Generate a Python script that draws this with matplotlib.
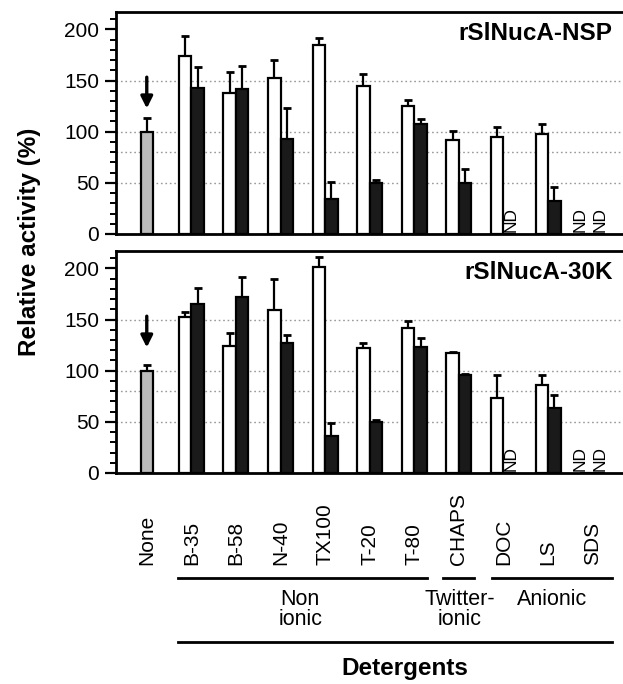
import matplotlib
matplotlib.use("Agg")
import matplotlib.pyplot as plt
import matplotlib.transforms as mtransforms
from matplotlib.lines import Line2D
from matplotlib.ticker import MultipleLocator
import numpy as np

plt.rcParams['font.family'] = ['Liberation Sans', 'DejaVu Sans']

# --- DATA ---
detergents = ["None", "B-35", "B-58", "N-40", "TX100", "T-20", "T-80",
              "CHAPS", "DOC", "LS", "SDS"]

control_nsp, control_nsp_err = 100, 13
white_nsp = [174, 138, 152, 185, 145, 125, 92, 95, 98, np.nan]
white_nsp_err = [20, 20, 18, 7, 11, 6, 9, 10, 10, 0]
black_nsp = [143, 142, 93, 34, 50, 108, 50, np.nan, 32, np.nan]
black_nsp_err = [20, 22, 30, 17, 3, 4, 14, 0, 14, 0]

control_30k, control_30k_err = 100, 6
white_30k = [152, 124, 159, 201, 122, 142, 117, 73, 86, np.nan]
white_30k_err = [5, 13, 31, 10, 5, 7, 1, 23, 10, 0]
black_30k = [165, 172, 127, 36, 50, 123, 96, np.nan, 64, np.nan]
black_30k_err = [16, 20, 8, 13, 1.5, 9, 0.5, 0, 12, 0]

groups = [("Non\nionic", 0.70, 6.28, 3.44),
          ("Twitter-\nionic", 6.64, 7.34, 7.02),
          ("Anionic", 7.74, 10.43, 9.08)]

W, H = 623, 684
fig = plt.figure(figsize=(W / 100, H / 100), dpi=100)

def frac_box(left, top, right, bottom):
    return [left / W, 1 - bottom / H, (right - left) / W, (bottom - top) / H]

ax_top = fig.add_axes(frac_box(116, 12, 623, 234))
ax_bot = fig.add_axes(frac_box(116, 251, 623, 473))

x = np.arange(len(detergents))
bw = 0.28

def err_up(ax, xi, v, e):
    ax.errorbar(xi, v, yerr=[[0], [e]], fmt='none', ecolor='black',
                elinewidth=1.6, capsize=2.8, capthick=2, zorder=1)

def draw_panel(ax, title, ctrl, ctrl_err, white, white_err, black, black_err):
    ax.set_xlim(-0.69, 10.68)
    ax.set_ylim(0, 217)
    for g in [50, 80, 100, 150]:
        ax.axhline(g, color='#999999', lw=1.0, ls=(0, (1.2, 2)), zorder=0)

    ax.bar(0, ctrl, bw, color='#bbbbbb', edgecolor='black', lw=1.6, zorder=2)
    err_up(ax, 0, ctrl, ctrl_err)

    xs = x[1:]
    w = np.array(white, dtype=float)
    b = np.array(black, dtype=float)
    ax.bar(xs - bw / 2, np.nan_to_num(w), bw, color='white', edgecolor='black',
           lw=1.6, zorder=2)
    ax.bar(xs + bw / 2, np.nan_to_num(b), bw, color='#1a1a1a', edgecolor='black',
           lw=1.6, zorder=2)
    for xi, v, e in zip(xs - bw / 2, w, white_err):
        if np.isnan(v):
            ax.text(xi - 0.15, 2, "ND", rotation=90, ha='center', va='bottom',
                    fontsize=12.5)
        else:
            err_up(ax, xi, v, e)
    for xi, v, e in zip(xs + bw / 2, b, black_err):
        if np.isnan(v):
            ax.text(xi + 0.02, 2, "ND", rotation=90, ha='center', va='bottom',
                    fontsize=12.5)
        else:
            err_up(ax, xi, v, e)

    ax.annotate("", xy=(0, 120), xytext=(0, 156),
                arrowprops=dict(arrowstyle='-|>,head_width=0.35,head_length=0.7',
                                color='black', lw=2.4))

    ax.text(10.45, 196, title, ha='right', va='center', fontsize=17.5,
            fontweight='bold')

    ax.spines['right'].set_visible(False)
    for s in ['left', 'top', 'bottom']:
        ax.spines[s].set_linewidth(2)
    ax.set_xticks([])
    ax.yaxis.set_major_locator(MultipleLocator(50))
    ax.yaxis.set_minor_locator(MultipleLocator(10))
    ax.tick_params(axis='y', which='major', length=8, width=1.6, labelsize=15,
                   pad=4)
    ax.tick_params(axis='y', which='minor', length=4, width=1.4)

draw_panel(ax_top, "rSlNucA-NSP", control_nsp, control_nsp_err,
           white_nsp, white_nsp_err, black_nsp, black_nsp_err)
draw_panel(ax_bot, "rSlNucA-30K", control_30k, control_30k_err,
           white_30k, white_30k_err, black_30k, black_30k_err)

# x labels under the bottom panel
trans = mtransforms.blended_transform_factory(ax_bot.transData, fig.transFigure)
for xi, name in zip(x, detergents):
    ax_bot.text(xi, 1 - 565 / H, name, rotation=90, ha='center', va='bottom',
                fontsize=15, transform=trans, clip_on=False)

for label, x0, x1, xc in groups:
    fig.add_artist(Line2D([x0, x1], [1 - 578 / H] * 2, color='black', lw=2,
                          transform=trans))
    ax_bot.text(xc, 1 - 589 / H, label, ha='center', va='top', fontsize=15.5,
                linespacing=0.95, transform=trans, clip_on=False)

fig.add_artist(Line2D([0.70, 10.43], [1 - 642 / H] * 2, color='black', lw=2,
                      transform=trans))
ax_bot.text(5.79, 1 - 668 / H, "Detergents", ha='center', va='center',
            fontsize=17.5, fontweight='bold', transform=trans, clip_on=False)

fig.text(30 / W, 1 - 242 / H, "Relative activity (%)", rotation=90,
         ha='center', va='center', fontsize=17.5, fontweight='bold')

fig.savefig("out.png", dpi=100)
